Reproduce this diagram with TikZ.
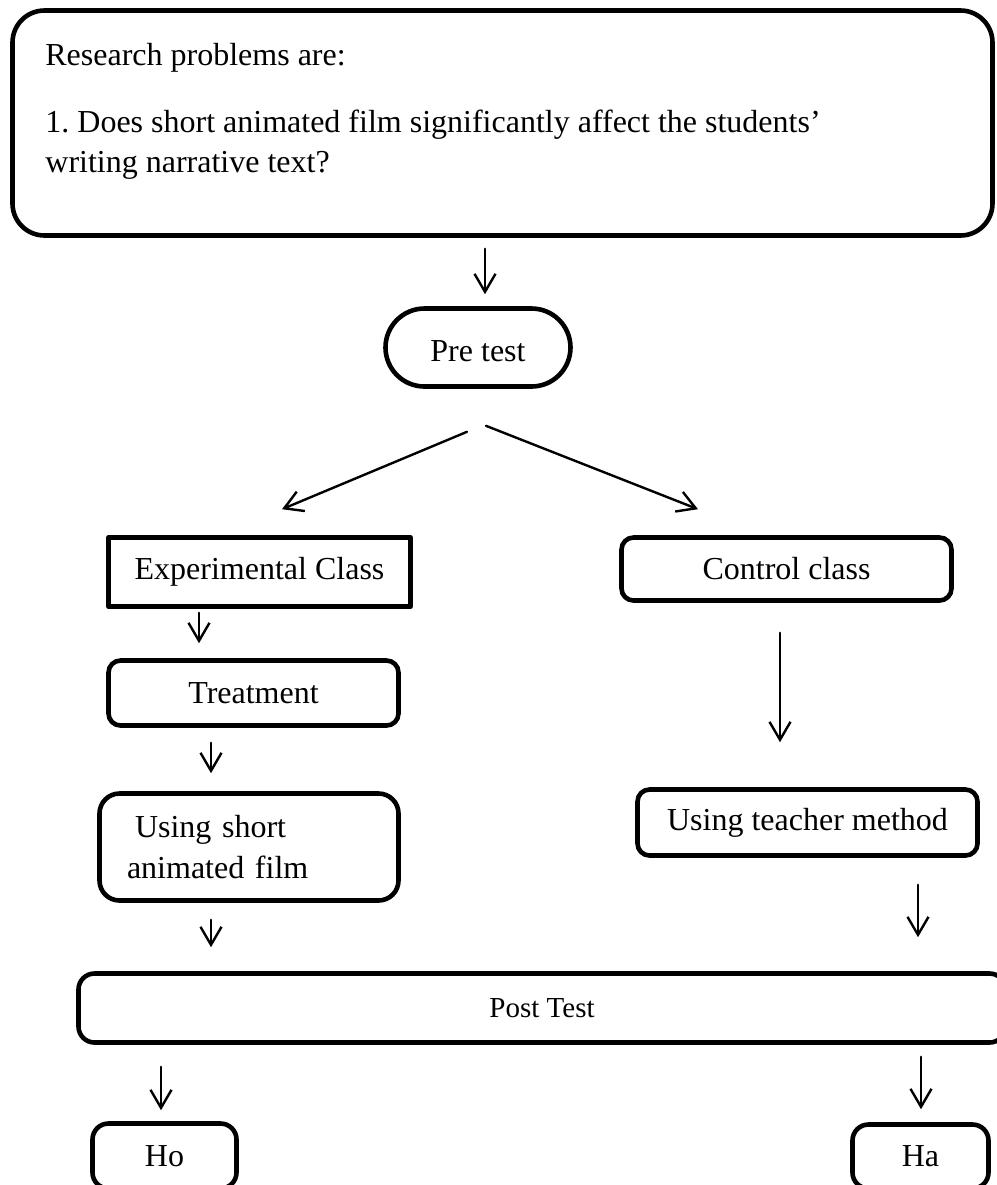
\documentclass[tikz,border=0pt]{standalone}
\usepackage{fontspec}
\setmainfont{Liberation Serif}
\usetikzlibrary{arrows.meta}
\frenchspacing
\begin{document}
\begin{tikzpicture}[x=0.5pt, y=0.5pt, font=\fontsize{16pt}{20.5pt}\selectfont, line join=round, line cap=round, >={Straight Barb[length=9pt,width=10.5pt]},
	box/.style={draw, line width=2.3pt, inner sep=2pt, rounded corners=6pt},
	flow/.style={->, line width=1.2pt}]
	\useasboundingbox (0,0) rectangle (997,-1185);
	\clip (0,0) rectangle (997,-1185);
	% research problems
	\node[box, rounded corners=16pt, minimum width=490pt, minimum height=112.5pt] (problems) at (502.5,-123) {};
	\node[anchor=base west, inner sep=0pt] (problem1) at (45,-65) {Research problems are:};
	\node[anchor=base west, inner sep=0pt] (problem2) at (45,-132) {1. Does short animated film significantly affect the students’};
	\node[anchor=base west, inner sep=0pt] (problem3) at (45,-172) {writing narrative text?};
	% boxes
	\node[box, rounded corners=19.5pt, minimum width=92.5pt, minimum height=39pt, text height=14.6pt] (pretest) at (478,-347.5) {Pre test};
	\node[box, rounded corners=0pt, minimum width=151pt, minimum height=34.5pt] (expclass) at (259.5,-572) {Experimental Class};
	\node[box, minimum width=165pt, minimum height=31.5pt] (ctrlclass) at (786.5,-569) {Control class};
	\node[box, minimum width=145pt, minimum height=32.5pt] (treatment) at (253.5,-693) {Treatment};
	\node[box, rounded corners=10pt, minimum width=149.5pt, minimum height=53.5pt, text width=122pt, align=left] (usingfilm) at (249,-847) {\hspace*{4pt}Using short\\animated film};
	\node[box, minimum width=170pt, minimum height=33pt] (teachmethod) at (807.5,-822.5) {Using teacher method};
	\node[box, rounded corners=8pt, minimum width=463.5pt, minimum height=34.5pt, font=\fontsize{14.5pt}{17pt}\selectfont] (posttest) at (542,-1008) {Post Test};
	\node[box, rounded corners=8pt, minimum width=72pt, minimum height=32.5pt] (ho) at (164.5,-1156) {Ho};
	\node[box, rounded corners=8pt, minimum width=68pt, minimum height=32pt] (ha) at (920.5,-1156.5) {Ha};
	% arrows
	\draw[flow] ([shift={(-17.5,-11)}]problems.south) -- ([shift={(7,12)}]pretest.north);
	\draw[flow] ([shift={(-11,-43)}]pretest.south) -- ([shift={(22.5,26)}]expclass.north);
	\draw[flow] ([shift={(8,-37)}]pretest.south) -- ([shift={(-88.5,26)}]ctrlclass.north);
	\draw[flow] ([shift={(-60.5,-4)}]expclass.south) -- ([shift={(-54.5,15)}]treatment.north);
	\draw[flow] ([shift={(-42.5,-15)}]treatment.south) -- ([shift={(-38,18)}]usingfilm.north);
	\draw[flow] ([shift={(-38,-17)}]usingfilm.south) -- ([shift={(-331,24)}]posttest.north);
	\draw[flow] ([shift={(-6.5,-30)}]ctrlclass.south) -- ([shift={(-27.5,45)}]teachmethod.north);
	\draw[flow] ([shift={(110.5,-27)}]teachmethod.south) -- ([shift={(376,34)}]posttest.north);
	\draw[flow] ([shift={(-381,-22)}]posttest.south) -- ([shift={(-3.5,11)}]ho.north);
	\draw[flow] ([shift={(379,-12)}]posttest.south) -- ([shift={(0.5,13)}]ha.north);
\end{tikzpicture}
\end{document}
